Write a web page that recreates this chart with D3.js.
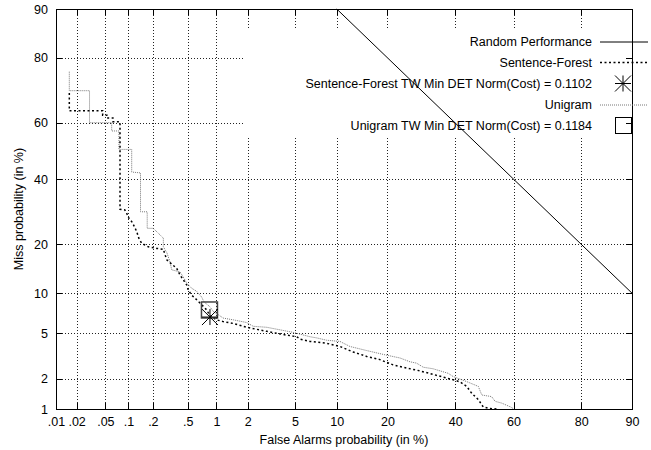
<!DOCTYPE html>
<html>
<head>
<meta charset="utf-8">
<script src="https://cdn.jsdelivr.net/npm/d3@7"></script>
<style>
  body { margin: 0; background: #fff; }
  text { font-family: "Liberation Sans", Arial, sans-serif; }
</style>
</head>
<body>
<div id="chart"></div>
<script>
// DET plot: miss vs false alarm, both on normal deviate scale (values in %)
const svgWidth = 651;
const svgHeight = 450;
const margin = { top: 9, right: 19, bottom: 41, left: 56 };

// tick labels
const xTicks = [0.01, 0.02, 0.05, 0.1, 0.2, 0.5, 1, 2, 5, 10, 20, 40, 60, 80, 90];
const xTickLabels = [".01", ".02", ".05", ".1", ".2", ".5", "1", "2", "5", "10", "20", "40", "60", "80", "90"];
const yTicks = [1, 2, 5, 10, 20, 40, 60, 80, 90];
const yTickLabels = ["1", "2", "5", "10", "20", "40", "60", "80", "90"];

// series: [false alarm %, miss %]
const randomPerf = [[10, 90], [90, 10]];

const sentenceForest = [
  [0.0157, 70.0], [0.0157, 64.2], [0.046, 64.2], [0.046, 62.7], [0.0525, 62.7], [0.0525, 61.7],
  [0.063, 61.7], [0.063, 60.4], [0.078, 60.4], [0.078, 30.0], [0.090, 29.8], [0.096, 28.5],
  [0.1016, 27.2], [0.111, 26.1], [0.1175, 25.0], [0.127, 23.4], [0.135, 21.6], [0.146, 20.3],
  [0.176, 19.4], [0.222, 19.0], [0.266, 18.8], [0.278, 17.5], [0.293, 16.3], [0.332, 15.4],
  [0.378, 14.5], [0.411, 13.2], [0.447, 12.3], [0.487, 11.4], [0.507, 10.5], [0.552, 9.7],
  [0.625, 9.0], [0.705, 8.3], [0.796, 7.6], [0.861, 6.85], [1.005, 6.4], [1.169, 6.2],
  [1.462, 6.0], [1.95, 5.6], [2.94, 5.2], [4.04, 4.9], [5.16, 4.7], [5.47, 4.5],
  [6.50, 4.3], [8.54, 4.15], [10.49, 3.9], [12.74, 3.5], [15.34, 3.2], [18.2, 3.0],
  [21.4, 2.69], [25.0, 2.52], [28.8, 2.37], [32.8, 2.20], [37.2, 2.03], [39.3, 1.96],
  [41.6, 1.87], [43.9, 1.69], [45.6, 1.45], [47.9, 1.25], [49.6, 1.05], [51.9, 1.01], [54.8, 1.0]
];

const unigram = [
  [0.0157, 76.3], [0.0157, 70.7], [0.0304, 70.7], [0.0304, 60.1], [0.0607, 60.1], [0.0607, 57.2],
  [0.0756, 57.2], [0.0756, 50.6], [0.110, 50.6], [0.110, 42.5], [0.1416, 42.2], [0.1416, 29.2],
  [0.171, 29.2], [0.171, 24.3], [0.202, 24.3], [0.243, 22.5], [0.266, 21.6], [0.266, 19.4],
  [0.293, 17.9], [0.317, 15.9], [0.332, 14.2], [0.411, 13.8], [0.447, 12.8], [0.487, 11.7],
  [0.552, 10.8], [0.625, 10.3], [0.705, 9.4], [0.746, 8.7], [0.861, 8.0], [0.929, 7.4],
  [1.043, 7.0], [1.169, 6.6], [1.462, 6.4], [1.95, 6.1], [2.24, 5.7], [2.94, 5.6],
  [4.85, 5.1], [6.50, 4.7], [7.27, 4.6], [8.54, 4.4], [10.49, 4.3], [12.16, 3.9],
  [15.34, 3.6], [19.5, 3.3], [23.2, 3.1], [25.9, 2.87], [27.8, 2.79], [29.8, 2.56],
  [32.8, 2.48], [37.7, 2.25], [39.3, 2.10], [43.9, 1.88], [47.9, 1.69], [49.1, 1.39],
  [52.5, 1.34], [53.7, 1.20], [56.0, 1.15], [59.0, 1.05], [60.1, 1.0]
];

// min DET cost points
const sfMin = [0.86, 6.72];
const uniMin = [0.85, 7.59];

const legendLabels = [
  "Random Performance",
  "Sentence-Forest",
  "Sentence-Forest TW Min DET Norm(Cost) = 0.1102",
  "Unigram",
  "Unigram TW Min DET Norm(Cost) = 0.1184"
];

// inverse normal CDF (Acklam)
function probit(p) {
  const a = [-3.969683028665376e+01, 2.209460984245205e+02, -2.759285104469687e+02, 1.383577518672690e+02, -3.066479806614716e+01, 2.506628277459239e+00];
  const b = [-5.447609879822406e+01, 1.615858368580409e+02, -1.556989798598866e+02, 6.680131188771972e+01, -1.328068155288572e+01];
  const c = [-7.784894002430293e-03, -3.223964580411365e-01, -2.400758277161838e+00, -2.549732539343734e+00, 4.374664141464968e+00, 2.938163982698783e+00];
  const d = [7.784695709041462e-03, 3.224671290700398e-01, 2.445134137142996e+00, 3.754408661907416e+00];
  const pl = 0.02425;
  let q, r;
  if (p < pl) {
    q = Math.sqrt(-2 * Math.log(p));
    return (((((c[0]*q+c[1])*q+c[2])*q+c[3])*q+c[4])*q+c[5]) / ((((d[0]*q+d[1])*q+d[2])*q+d[3])*q+1);
  }
  if (p <= 1 - pl) {
    q = p - 0.5; r = q * q;
    return (((((a[0]*r+a[1])*r+a[2])*r+a[3])*r+a[4])*r+a[5])*q / (((((b[0]*r+b[1])*r+b[2])*r+b[3])*r+b[4])*r+1);
  }
  q = Math.sqrt(-2 * Math.log(1 - p));
  return -(((((c[0]*q+c[1])*q+c[2])*q+c[3])*q+c[4])*q+c[5]) / ((((d[0]*q+d[1])*q+d[2])*q+d[3])*q+1);
}

const chartWidth = svgWidth - margin.left - margin.right;
const chartHeight = svgHeight - margin.top - margin.bottom;

const svg = d3.select("#chart")
  .append("svg")
  .attr("width", svgWidth)
  .attr("height", svgHeight);

const chartGroup = svg.append("g")
  .attr("transform", `translate(${margin.left},${margin.top})`);

// linear scales on the normal deviate
const xScale = d3.scaleLinear()
  .domain([probit(0.0001), probit(0.9)])
  .range([0, chartWidth]);
const yScale = d3.scaleLinear()
  .domain([probit(0.01), probit(0.9)])
  .range([chartHeight, 0]);
const px = v => xScale(probit(v / 100));
const py = v => yScale(probit(v / 100));

const xTickPos = xTicks.map(v => probit(v / 100));
const yTickPos = yTicks.map(v => probit(v / 100));

// grid
const grid = chartGroup.append("g")
  .attr("stroke", "#222")
  .attr("stroke-width", 1)
  .attr("stroke-dasharray", "1,2")
  .attr("shape-rendering", "crispEdges");
grid.selectAll("line.vx")
  .data(xTickPos)
  .enter()
  .append("line")
  .attr("x1", d => Math.round(xScale(d)) + 0.5)
  .attr("x2", d => Math.round(xScale(d)) + 0.5)
  .attr("y1", 0)
  .attr("y2", chartHeight);
grid.selectAll("line.hy")
  .data(yTickPos)
  .enter()
  .append("line")
  .attr("x1", 0)
  .attr("x2", chartWidth)
  .attr("y1", d => Math.round(yScale(d)) + 0.5)
  .attr("y2", d => Math.round(yScale(d)) + 0.5);

// opaque key box
chartGroup.append("rect")
  .attr("x", 245 - margin.left)
  .attr("y", 29 - margin.top)
  .attr("width", svgWidth - 245)
  .attr("height", 107)
  .attr("fill", "#fff");

// axes with inward ticks
const fontSize = "12.5px";
const bottomAxis = d3.axisBottom(xScale)
  .tickValues(xTickPos)
  .tickFormat((d, i) => xTickLabels[i])
  .tickSizeInner(-6).tickSizeOuter(0).tickPadding(8);
const gx = chartGroup.append("g")
  .attr("transform", `translate(0, ${chartHeight})`)
  .call(bottomAxis);

const topAxis = d3.axisTop(xScale)
  .tickValues(xTickPos).tickFormat("")
  .tickSizeInner(-6).tickSizeOuter(0);
const gxt = chartGroup.append("g").call(topAxis);

const leftAxis = d3.axisLeft(yScale)
  .tickValues(yTickPos)
  .tickFormat((d, i) => yTickLabels[i])
  .tickSizeInner(-6).tickSizeOuter(0).tickPadding(8);
const gy = chartGroup.append("g").call(leftAxis);

const rightAxis = d3.axisRight(yScale)
  .tickValues(yTickPos).tickFormat("")
  .tickSizeInner(-6).tickSizeOuter(0);
const gyr = chartGroup.append("g")
  .attr("transform", `translate(${chartWidth}, 0)`)
  .call(rightAxis);

[gx, gxt, gy, gyr].forEach(g => {
  g.select(".domain").remove();
  g.selectAll("line").attr("stroke", "#000").attr("shape-rendering", "crispEdges");
  g.selectAll("text").attr("font-size", fontSize).attr("fill", "#000")
    .style("font-family", '"Liberation Sans", Arial, sans-serif');
});

// border
chartGroup.append("rect")
  .attr("x", 0.5)
  .attr("y", 0.5)
  .attr("width", chartWidth)
  .attr("height", chartHeight)
  .attr("fill", "none")
  .attr("stroke", "#000")
  .attr("stroke-width", 1)
  .attr("shape-rendering", "crispEdges");

const line = d3.line().x(d => px(d[0])).y(d => py(d[1]));

// random performance
chartGroup.append("path")
  .datum(randomPerf)
  .attr("d", line)
  .attr("fill", "none")
  .attr("stroke", "#000")
  .attr("stroke-width", 1);

// unigram
chartGroup.append("path")
  .datum(unigram)
  .attr("d", line)
  .attr("fill", "none")
  .attr("stroke", "#777")
  .attr("stroke-width", 1)
  .attr("stroke-dasharray", "1,1");

// sentence-forest
chartGroup.append("path")
  .datum(sentenceForest)
  .attr("d", line)
  .attr("fill", "none")
  .attr("stroke", "#000")
  .attr("stroke-width", 1.5)
  .attr("stroke-dasharray", "2,2.5");

function drawStar(g, cx, cy, r) {
  const s = g.append("g").attr("stroke", "#000").attr("stroke-width", 1);
  [[-r, 0, r, 0], [0, -r, 0, r], [-r, -r, r, r], [-r, r, r, -r]].forEach(l => {
    s.append("line")
      .attr("x1", cx + l[0]).attr("y1", cy + l[1])
      .attr("x2", cx + l[2]).attr("y2", cy + l[3]);
  });
}
function drawSquare(g, cx, cy, r, color, w) {
  g.append("rect")
    .attr("x", cx - r).attr("y", cy - r)
    .attr("width", 2 * r).attr("height", 2 * r)
    .attr("fill", "none")
    .attr("stroke", color)
    .attr("stroke-width", w);
}

drawSquare(chartGroup, px(uniMin[0]), py(uniMin[1]), 8, "#444", 1.5);
drawStar(chartGroup, px(sfMin[0]), py(sfMin[1]), 8);

// legend
const legend = svg.append("g");
const rowY = i => 41.5 + i * 21;
legend.selectAll("text")
  .data(legendLabels)
  .enter()
  .append("text")
  .attr("x", 592)
  .attr("y", (d, i) => rowY(i))
  .attr("dy", "0.35em")
  .attr("text-anchor", "end")
  .attr("font-size", fontSize)
  .attr("fill", "#000")
  .text(d => d);

legend.append("line")
  .attr("x1", 600).attr("x2", 648)
  .attr("y1", rowY(0) + 0.5).attr("y2", rowY(0) + 0.5)
  .attr("stroke", "#000").attr("stroke-width", 1);
legend.append("line")
  .attr("x1", 600).attr("x2", 648)
  .attr("y1", rowY(1)).attr("y2", rowY(1))
  .attr("stroke", "#000").attr("stroke-width", 1.5)
  .attr("stroke-dasharray", "2,2.5");
drawStar(legend, 623, rowY(2), 8);
legend.append("line")
  .attr("x1", 600).attr("x2", 648)
  .attr("y1", rowY(3) + 0.5).attr("y2", rowY(3) + 0.5)
  .attr("stroke", "#777").attr("stroke-width", 1)
  .attr("stroke-dasharray", "1,1");
drawSquare(legend, 623.5, rowY(4), 8, "#000", 1);

// axis titles
svg.append("text")
  .attr("x", margin.left + chartWidth / 2)
  .attr("y", 444)
  .attr("text-anchor", "middle")
  .attr("font-size", fontSize)
  .text("False Alarms probability (in %)");

svg.append("text")
  .attr("transform", `translate(23, ${margin.top + chartHeight / 2}) rotate(-90)`)
  .attr("text-anchor", "middle")
  .attr("font-size", fontSize)
  .text("Miss probability (in %)");
</script>
</body>
</html>
